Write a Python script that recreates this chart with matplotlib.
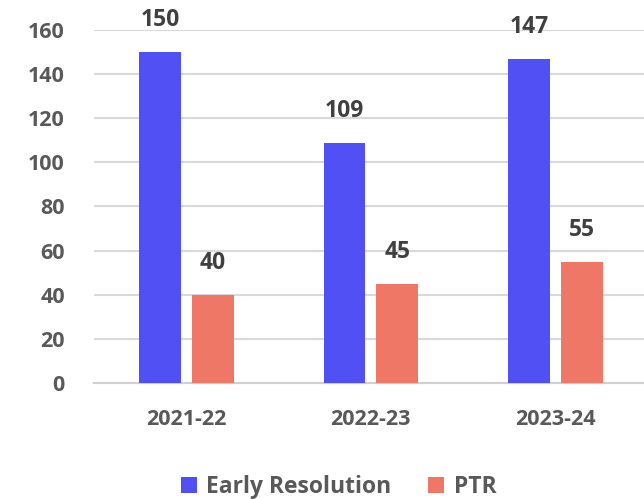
import numpy as np
import matplotlib.pyplot as plt

years = ["2021-22", "2022-23", "2023-24"]
early = [150, 109, 147]
ptr = [40, 45, 55]

plt.rcParams['font.family'] = ['Open Sans', 'DejaVu Sans']
txt = '#595959'

fig = plt.figure(figsize=(6.44, 4.99), dpi=100)
ax = fig.add_axes([94/644, 1-383/499, 550/644, 353/499])

x = np.arange(len(years))
w = 0.227
b1 = ax.bar(x - 0.143, early, w, color='#5050F4', label='Early Resolution', zorder=3)
b2 = ax.bar(x + 0.143, ptr, w, color='#EE7766', label='PTR', zorder=3)

for bars in (b1, b2):
    for r in bars:
        ax.text(r.get_x() + r.get_width()/2, r.get_height() + 9, str(int(r.get_height())),
                ha='center', va='bottom', fontsize=16.5, fontweight='bold', color='#404040')

ax.set_xlim(-0.5, 2.48)
ax.set_ylim(0, 160)
ax.set_yticks(range(0, 161, 20))
ax.set_xticks(x)
ax.set_xticklabels(years)
ax.grid(axis='y', color='#d9d9d9', lw=1.5, zorder=0)
for s in ['top', 'right', 'left']:
    ax.spines[s].set_visible(False)
ax.spines['bottom'].set_color('#d0d0d0')
ax.spines['bottom'].set_linewidth(1.5)
ax.tick_params(length=0, labelsize=15.5, colors=txt)
ax.tick_params(axis='y', pad=21)
ax.tick_params(axis='x', pad=19)
for lab in ax.get_xticklabels() + ax.get_yticklabels():
    lab.set_fontweight('bold')

ax.legend(loc='center', bbox_to_anchor=(0.445, -0.295), ncol=2, frameon=False,
          prop={'size': 16.5, 'weight': 'bold'}, labelcolor=txt,
          handlelength=0.7, handleheight=0.7, columnspacing=1.6, handletextpad=0.4)

fig.savefig('out.png')
